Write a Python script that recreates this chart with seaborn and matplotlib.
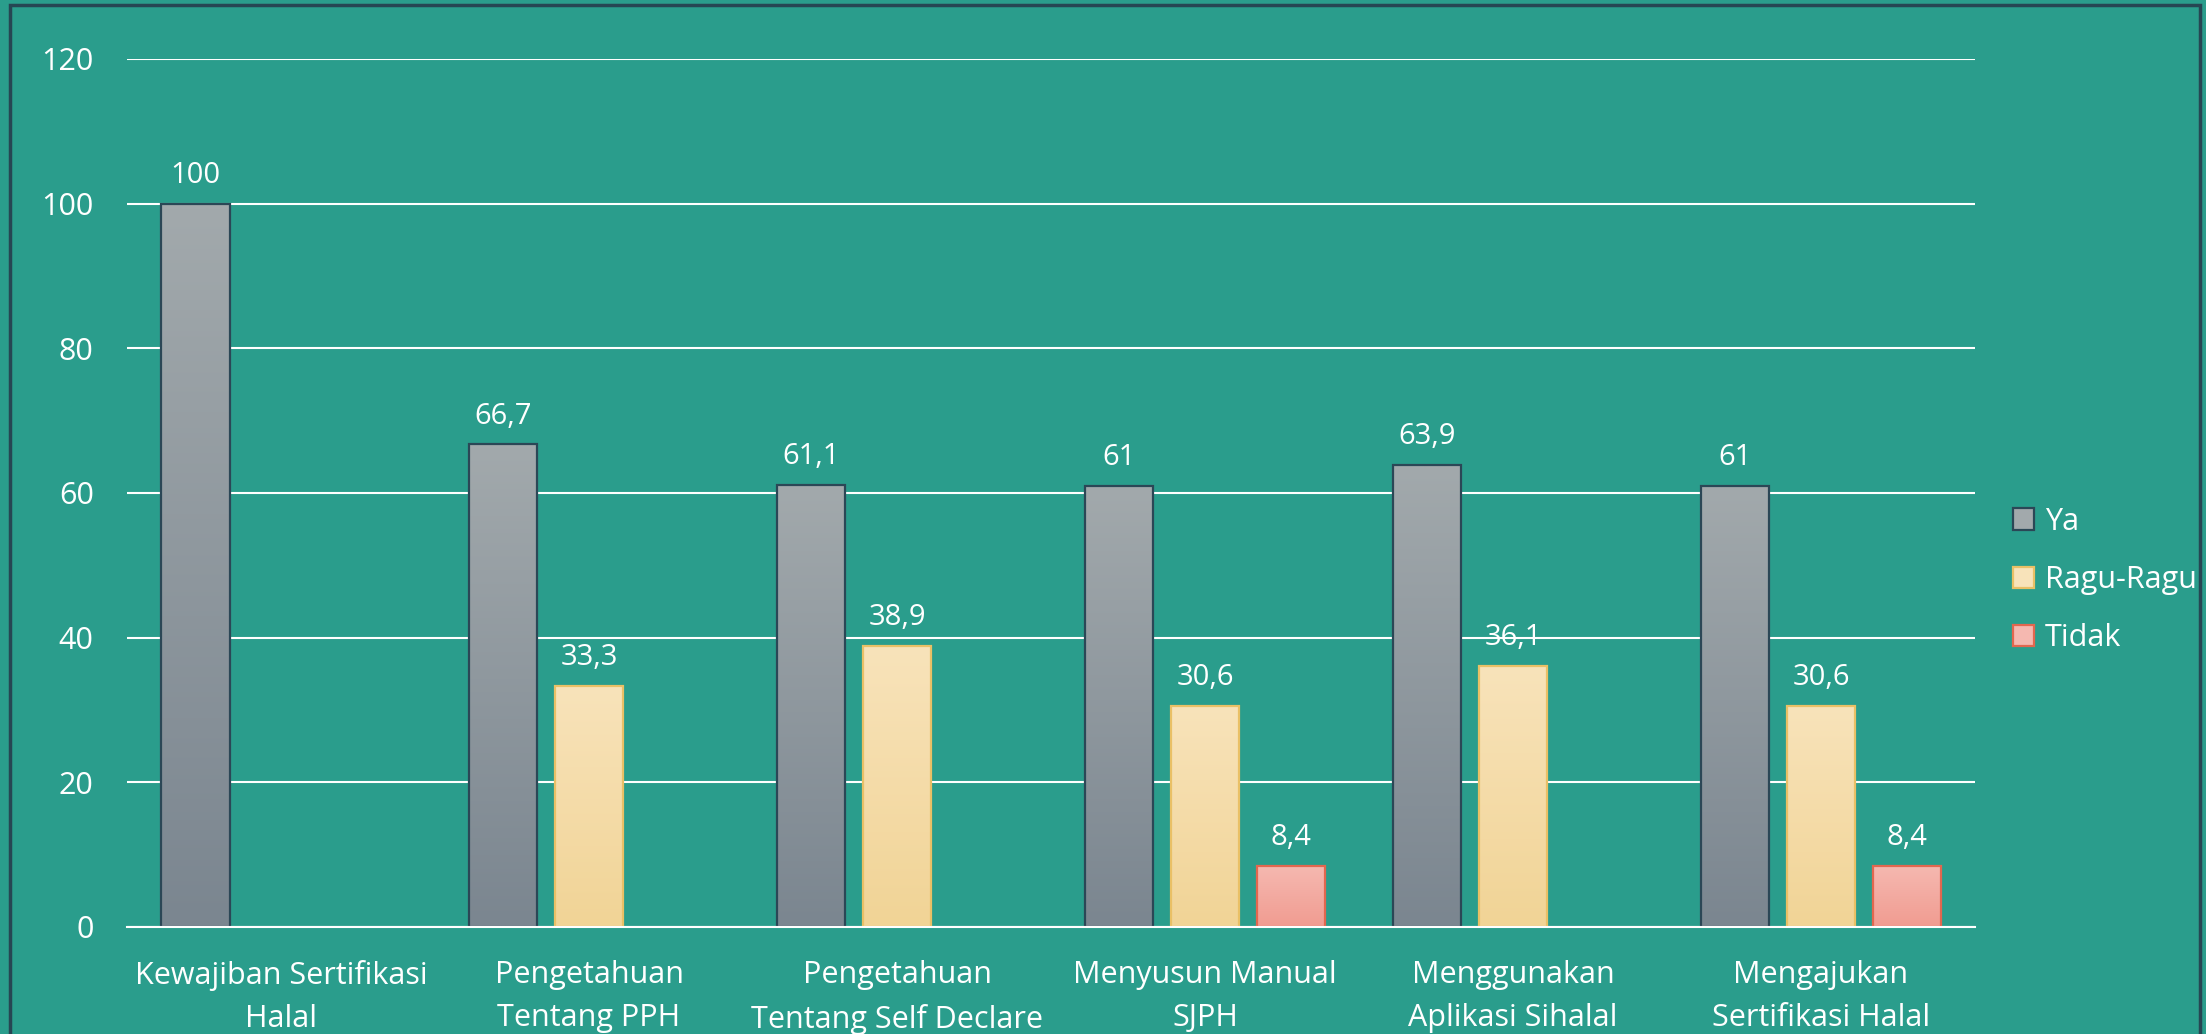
import numpy as np
import pandas as pd
import matplotlib
matplotlib.use("Agg")
import matplotlib.pyplot as plt
from matplotlib.patches import Patch, Rectangle
from matplotlib.colors import to_rgb
import seaborn as sns

# data
categories = [
    "Kewajiban Sertifikasi\nHalal",
    "Pengetahuan\nTentang PPH",
    "Pengetahuan\nTentang Self Declare",
    "Menyusun Manual\nSJPH",
    "Menggunakan\nAplikasi Sihalal",
    "Mengajukan\nSertifikasi Halal",
]
series = ["Ya", "Ragu-Ragu", "Tidak"]
ya = [100, 66.7, 61.1, 61, 63.9, 61]
ragu = [None, 33.3, 38.9, 30.6, 36.1, 30.6]
tidak = [None, None, None, 8.4, None, 8.4]
y_ticks = [0, 20, 40, 60, 80, 100, 120]

rows = []
for cat, a, b, c in zip(categories, ya, ragu, tidak):
    for s, v in zip(series, [a, b, c]):
        if v is not None:
            rows.append({"Kategori": cat, "Seri": s, "Nilai": v})
df = pd.DataFrame(rows)

bg = "#2a9d8c"
# warna gradasi atas / bawah dan garis tepi per seri
grad = {
    "Ya": ("#a2a9ac", "#7b8690", "#2b4756"),
    "Ragu-Ragu": ("#f8e3ba", "#f1d496", "#e9c066"),
    "Tidak": ("#f5b8b0", "#f19c91", "#e2674f"),
}

sns.set_style("white")
plt.rcParams["font.family"] = ["Open Sans", "DejaVu Sans"]
plt.rcParams["text.color"] = "white"

fig = plt.figure(figsize=(22.06, 10.34), dpi=100, facecolor=bg)
ax = fig.add_axes([0.0576, 0.1035, 0.8377, 0.8395])
ax.set_facecolor(bg)

sns.barplot(
    data=df, x="Kategori", y="Nilai", hue="Seri",
    order=categories, hue_order=series,
    width=0.837, gap=0.2, errorbar=None, legend=False, ax=ax,
)

# gradient fill clipped to each bar
for s, cont in zip(series, ax.containers):
    top, bot, edge = grad[s]
    img = np.linspace(np.array(to_rgb(top)), np.array(to_rgb(bot)), 64)[:, None, :]
    for bar in cont:
        h = bar.get_height()
        if np.isnan(h):
            continue
        x0 = bar.get_x()
        w = bar.get_width()
        im = ax.imshow(img, extent=[x0, x0 + w, 0, h], aspect="auto",
                       origin="upper", zorder=2, interpolation="bilinear")
        im.set_clip_path(bar)
        bar.set_facecolor("none")
        bar.set_edgecolor(edge)
        bar.set_linewidth(1.6)
        bar.set_zorder(3)
        ax.annotate(f"{h:g}".replace(".", ","), (x0 + w / 2, h),
                    xytext=(0, 10), textcoords="offset points",
                    ha="center", va="bottom", fontsize=21, color="white")

ax.set_xlim(-0.5, len(categories) - 0.5)
ax.set_ylim(0, 120)
ax.set_yticks(y_ticks)
ax.set_yticklabels([str(t) for t in y_ticks])
ax.yaxis.grid(True, color="white", linewidth=1.5, zorder=0)
ax.set_axisbelow(True)
ax.set_xlabel("")
ax.set_ylabel("")

for sp in ["top", "right", "left"]:
    ax.spines[sp].set_visible(False)
ax.spines["bottom"].set_color("white")
ax.spines["bottom"].set_linewidth(1.5)
ax.spines["bottom"].set_zorder(4)

ax.set_xticks(np.arange(-0.5, len(categories)), minor=True)
ax.tick_params(axis="x", which="minor", length=8, width=1.5, color="white", direction="out")
ax.tick_params(axis="x", which="major", length=0, pad=24, labelsize=22, labelcolor="white")
ax.tick_params(axis="y", length=0, pad=24, labelsize=22, labelcolor="white")
for lab in ax.get_xticklabels():
    lab.set_linespacing(1.55)

handles = [Patch(facecolor=grad[s][0], edgecolor=grad[s][2], linewidth=1.6, label=s)
           for s in series]
leg = fig.legend(handles=handles, loc="center left", bbox_to_anchor=(0.9, 0.439),
                 frameon=False, fontsize=22, handlelength=0.7, handleheight=0.7,
                 handletextpad=0.35, labelspacing=0.93, labelcolor="white")

# bingkai luar
fig.patches.append(Rectangle((10 / 2206, -0.05), 1 - 16 / 2206, 1.05 - 5 / 1034,
                             transform=fig.transFigure, fill=False,
                             edgecolor="#264653", linewidth=2.5))

fig.savefig("out.png", dpi=100, facecolor=bg)
